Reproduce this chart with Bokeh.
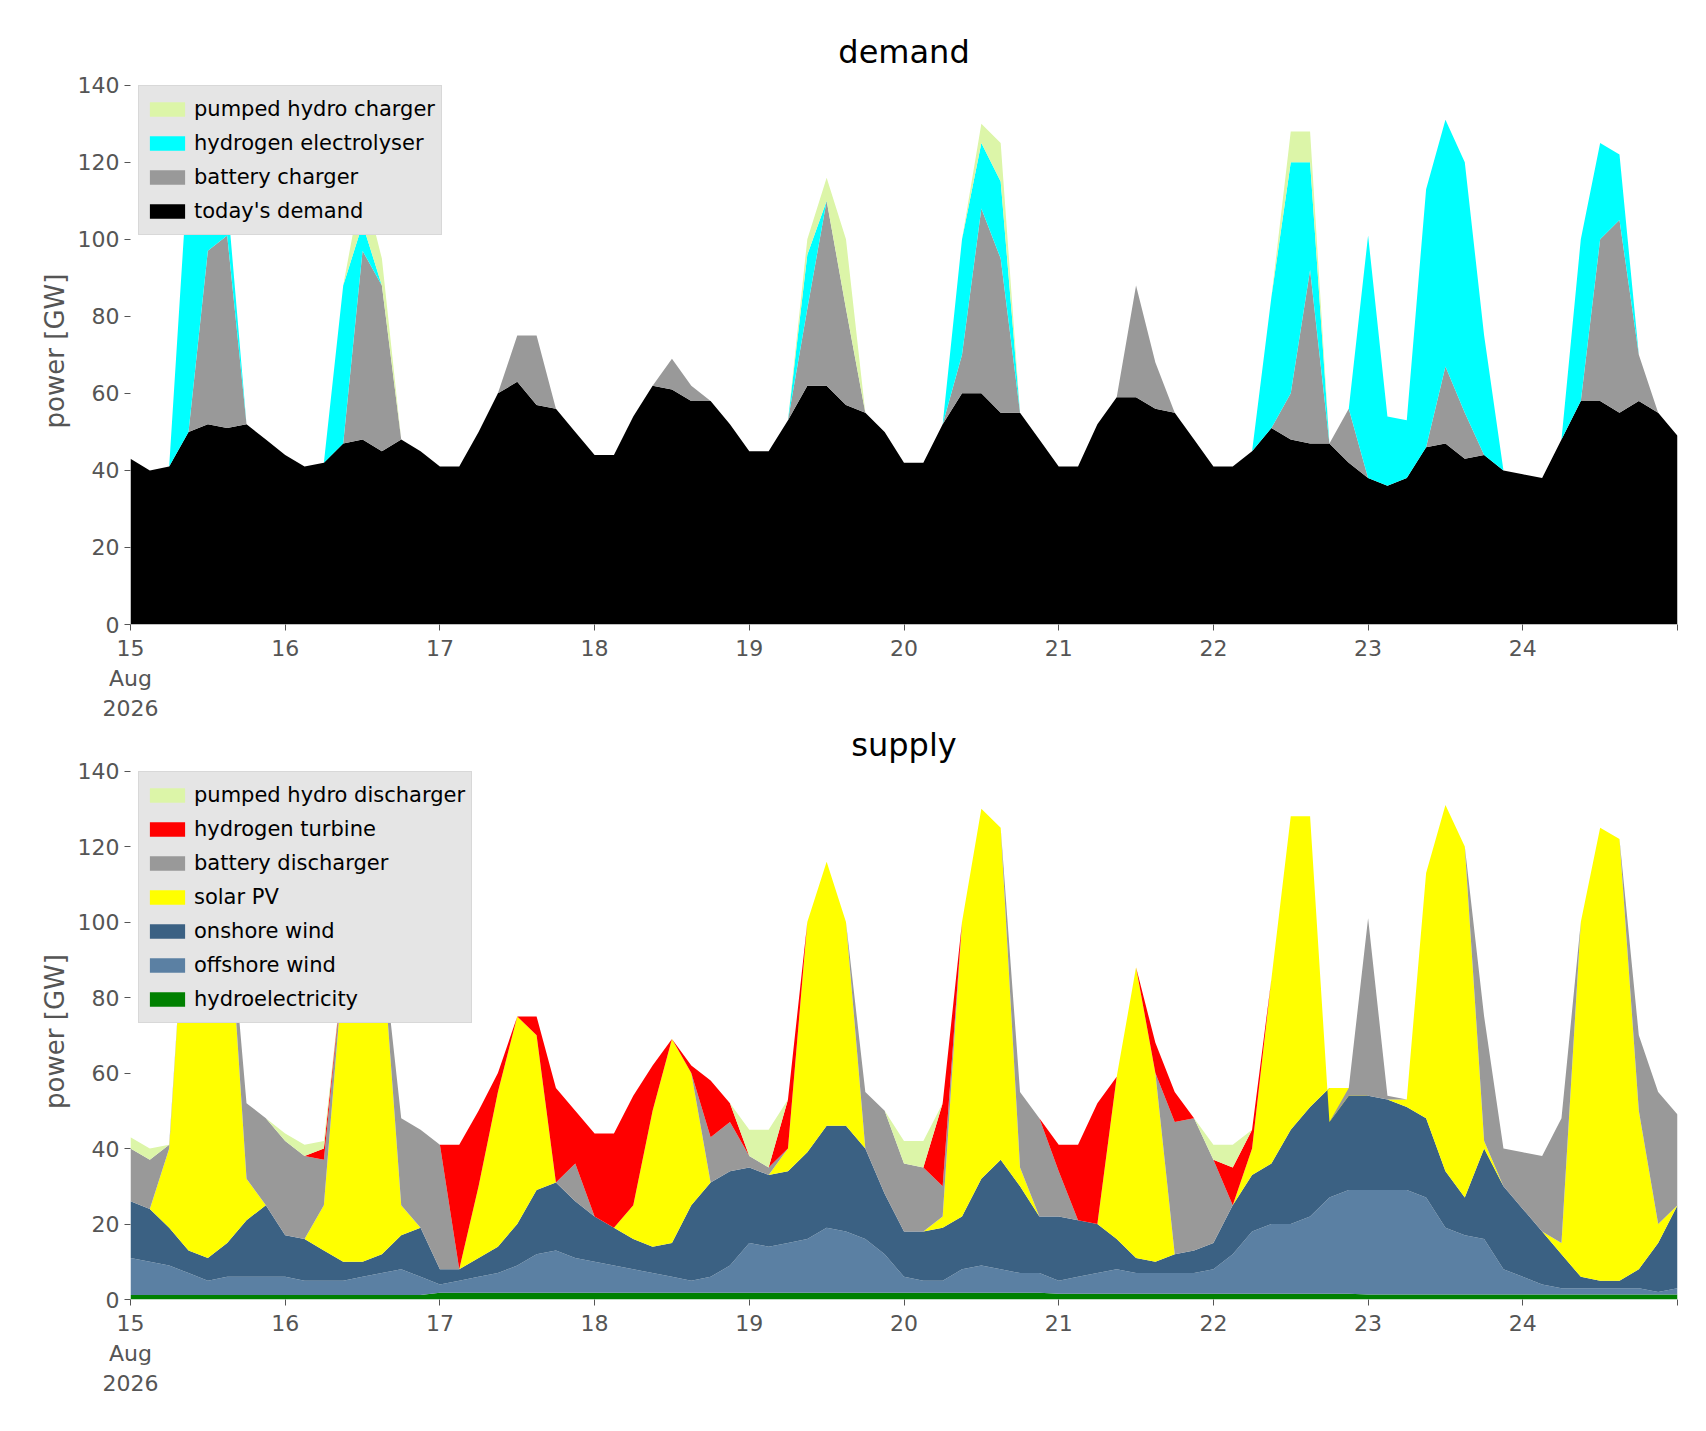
import numpy as np
from bokeh.plotting import figure
from bokeh.layouts import column
from bokeh.models import FixedTicker, Legend, LegendItem, Range1d
from bokeh.embed import file_html
from bokeh.resources import INLINE

# 3-hourly samples, 15 Aug 00:00 .. 25 Aug 00:00 (x in days of August)
days = 15 + np.arange(81) / 8.0

# ---- demand side (GW) ----
todays_demand = [43, 40, 41, 50, 52, 51, 52, 48,
                 44, 41, 42, 47, 48, 45, 48, 45,
                 41, 41, 50, 60, 63, 57, 56, 50,
                 44, 44, 54, 62, 61, 58, 58, 52,
                 45, 45, 53, 62, 62, 57, 55, 50,
                 42, 42, 52, 60, 60, 55, 55, 48,
                 41, 41, 52, 59, 59, 56, 55, 48,
                 41, 41, 45, 51, 48, 47, 47, 42,
                 38, 36, 38, 46, 47, 43, 44, 40,
                 39, 38, 48, 58, 58, 55, 58, 55, 49]
battery_charger = [0, 0, 0, 0, 45, 50, 0, 0,
                   0, 0, 0, 0, 49, 43, 0, 0,
                   0, 0, 0, 0, 12, 18, 0, 0,
                   0, 0, 0, 0, 8, 4, 0, 0,
                   0, 0, 0, 20, 48, 25, 0, 0,
                   0, 0, 0, 10, 48, 40, 0, 0,
                   0, 0, 0, 0, 29, 12, 0, 0,
                   0, 0, 0, 0, 12, 45, 0, 14,
                   0, 0, 0, 0, 20, 12, 0, 0,
                   0, 0, 0, 0, 42, 50, 12, 0, 0]
electrolyser = [0, 0, 0, 70, 33, 10, 0, 0,
                0, 0, 0, 41, 7, 0, 0, 0,
                0, 0, 0, 0, 0, 0, 0, 0,
                0, 0, 0, 0, 0, 0, 0, 0,
                0, 0, 0, 14, 0, 0, 0, 0,
                0, 0, 0, 30, 17, 20, 0, 0,
                0, 0, 0, 0, 0, 0, 0, 0,
                0, 0, 0, 34, 60, 28, 0, 0,
                63, 18, 15, 67, 64, 65, 31, 0,
                0, 0, 0, 42, 25, 17, 0, 0, 0]
ph_charger = [0, 0, 0, 0, 5, 0, 0, 0,
              0, 0, 0, 0, 11, 7, 0, 0,
              0, 0, 0, 0, 0, 0, 0, 0,
              0, 0, 0, 0, 0, 0, 0, 0,
              0, 0, 0, 4, 6, 18, 0, 0,
              0, 0, 0, 0, 5, 10, 0, 0,
              0, 0, 0, 0, 0, 0, 0, 0,
              0, 0, 0, 0, 8, 8, 0, 0,
              0, 0, 0, 0, 0, 0, 0, 0,
              0, 0, 0, 0, 0, 0, 0, 0, 0]

# ---- supply side: read as upper edges of the stacked bands ----
hydro = [1.2] * 16 + [1.8] * 32 + [1.5] * 16 + [1.3] * 17
offshore_top = [11, 10, 9, 7, 5, 6, 6, 6,
                6, 5, 5, 5, 6, 7, 8, 6,
                4, 5, 6, 7, 9, 12, 13, 11,
                10, 9, 8, 7, 6, 5, 6, 9,
                15, 14, 15, 16, 19, 18, 16, 12,
                6, 5, 5, 8, 9, 8, 7, 7,
                5, 6, 7, 8, 7, 7, 7, 7,
                8, 12, 18, 20, 20, 22, 27, 29,
                29, 29, 29, 27, 19, 17, 16, 8,
                6, 4, 3, 3, 3, 3, 3, 2, 3]
onshore_top = [26, 24, 19, 13, 11, 15, 21, 25,
               17, 16, 13, 10, 10, 12, 17, 19,
               8, 8, 11, 14, 20, 29, 31, 26,
               22, 19, 16, 14, 15, 25, 31, 34,
               35, 33, 34, 39, 46, 46, 40, 28,
               18, 18, 19, 22, 32, 37, 30, 22,
               22, 21, 20, 16, 11, 10, 12, 13,
               15, 25, 33, 36, 45, 51, 56, 56,
               54, 53, 51, 48, 34, 27, 40, 30,
               24, 18, 12, 6, 5, 5, 8, 15, 25]
solar_top = [26, 24, 40, 120, 135, 110, 32, 25,
             17, 16, 25, 88, 115, 95, 25, 19,
             8, 8, 30, 55, 75, 70, 31, 26,
             22, 19, 25, 50, 69, 60, 31, 34,
             35, 33, 40, 100, 116, 100, 40, 28,
             18, 18, 22, 100, 130, 125, 35, 22,
             22, 21, 20, 59, 88, 60, 12, 13,
             15, 25, 40, 85, 128, 128, 47, 54,
             54, 53, 53, 113, 131, 120, 42, 30,
             24, 18, 15, 100, 125, 122, 50, 20, 25]
battery_discharger = [14, 13, 1, 0, 0, 1, 20, 23,
                      25, 22, 12, 0, 0, 0, 23, 26,
                      33, 0, 0, 0, 0, 0, 0, 10,
                      0, 0, 0, 0, 0, 0, 12, 13,
                      3, 2, 0, 0, 0, 0, 15, 22,
                      18, 17, 8, 0, 0, 0, 20, 26,
                      12, 0, 0, 0, 0, 0, 35, 35,
                      22, 0, 0, 0, 0, 0, 0, 2,
                      47, 1, 0, 0, 0, 0, 33, 10,
                      15, 20, 33, 0, 0, 0, 20, 35, 24]
h2_turbine = [0, 0, 0, 0, 0, 0, 0, 0,
              0, 0, 3, 0, 0, 0, 0, 0,
              0, 33, 20, 5, 0, 5, 25, 14,
              22, 25, 29, 12, 0, 2, 15, 5,
              0, 0, 13, 0, 0, 0, 0, 0,
              0, 0, 22, 0, 0, 0, 0, 0,
              7, 20, 32, 0, 0, 8, 8, 0,
              0, 10, 5, 0, 0, 0, 0, 0,
              0, 0, 0, 0, 0, 0, 0, 0,
              0, 0, 0, 0, 0, 0, 0, 0, 0]
ph_discharger = [3, 3, 0, 0, 0, 0, 0, 0,
                 2, 3, 2, 0, 0, 0, 0, 0,
                 0, 0, 0, 0, 0, 0, 0, 0,
                 0, 0, 0, 0, 0, 0, 0, 0,
                 7, 10, 0, 0, 0, 0, 0, 0,
                 6, 7, 0, 0, 0, 0, 0, 0,
                 0, 0, 0, 0, 0, 0, 0, 0,
                 4, 6, 0, 0, 0, 0, 0, 0,
                 0, 0, 0, 0, 0, 0, 0, 0,
                 0, 0, 0, 0, 0, 0, 0, 0, 0]

tick_days = list(range(15, 26))
tick_labels = {15: "15\nAug\n2026", 25: ""}

hydro_a = np.array(hydro)
offshore = np.array(offshore_top) - hydro_a
onshore = np.array(onshore_top) - np.array(offshore_top)
solar = np.array(solar_top) - np.array(onshore_top)

demand_src = dict(x=days, demand=todays_demand, bat=battery_charger,
                  h2=electrolyser, ph=ph_charger)
supply_src = dict(x=days, hydro=hydro, off=offshore, on=onshore, pv=solar,
                  bat=battery_discharger, h2=h2_turbine, ph=ph_discharger)

GREY = "#555555"


def make_fig(title, height, border_top, border_bottom, standoff):
    p = figure(width=1690, height=height, output_backend="svg", toolbar_location=None,
               x_range=Range1d(15, 25), y_range=Range1d(0, 142),
               min_border_left=130, min_border_right=13,
               min_border_top=border_top, min_border_bottom=border_bottom)
    p.title.text = title
    p.title.align = "center"
    p.title.text_font_size = "32px"
    p.title.text_font_style = "normal"
    p.title.text_font = "DejaVu Sans"
    p.title.text_color = "#000000"
    p.title.standoff = standoff
    p.outline_line_color = None
    p.grid.grid_line_color = None
    p.xaxis.ticker = FixedTicker(ticks=tick_days)
    p.xaxis.major_label_overrides = tick_labels
    p.yaxis.ticker = FixedTicker(ticks=list(range(0, 141, 20)))
    for ax in (p.xaxis, p.yaxis):
        ax.axis_line_color = None
        ax.minor_tick_line_color = None
        ax.major_tick_line_color = GREY
        ax.major_tick_out = 6
        ax.major_tick_in = 0
        ax.major_label_text_font_size = "22px"
        ax.major_label_text_color = GREY
        ax.major_label_text_font = "DejaVu Sans"
    p.yaxis.axis_label = "power [GW]"
    p.yaxis.axis_label_text_font_size = "26px"
    p.yaxis.axis_label_text_font_style = "normal"
    p.yaxis.axis_label_text_color = GREY
    p.yaxis.axis_label_text_font = "DejaVu Sans"
    return p


def add_legend(p, renderers, labels):
    items = [LegendItem(label=l, renderers=[r]) for l, r in zip(labels, renderers)][::-1]
    leg = Legend(items=items, location="top_left")
    leg.label_text_font_size = "21px"
    leg.label_text_font = "DejaVu Sans"
    leg.label_text_color = "#000000"
    leg.background_fill_color = "#e5e5e5"
    leg.background_fill_alpha = 1
    leg.border_line_color = "#cccccc"
    leg.spacing = 0
    leg.padding = 6
    leg.label_height = 34
    leg.glyph_height = 18
    leg.glyph_width = 44
    leg.margin = 8
    p.add_layout(leg)


p1 = make_fig("demand", 723, 77, 60, 14)
r1 = p1.varea_stack(["demand", "bat", "h2", "ph"], x="x", source=demand_src,
                    color=["#000000", "#999999", "#00ffff", "#dcf5a8"])
add_legend(p1, r1, ["today's demand", "battery charger", "hydrogen electrolyser",
                    "pumped hydro charger"])

p2 = make_fig("supply", 691, 10, 115, 0)
r2 = p2.varea_stack(["hydro", "off", "on", "pv", "bat", "h2", "ph"], x="x", source=supply_src,
                    color=["#008000", "#5b80a3", "#3b6183", "#ffff00", "#999999",
                           "#ff0000", "#dcf5a8"])
add_legend(p2, r2, ["hydroelectricity", "offshore wind", "onshore wind", "solar PV",
                    "battery discharger", "hydrogen turbine", "pumped hydro discharger"])

layout = column(p1, p2, spacing=0)
open("out.html", "w").write(file_html(layout, INLINE))
